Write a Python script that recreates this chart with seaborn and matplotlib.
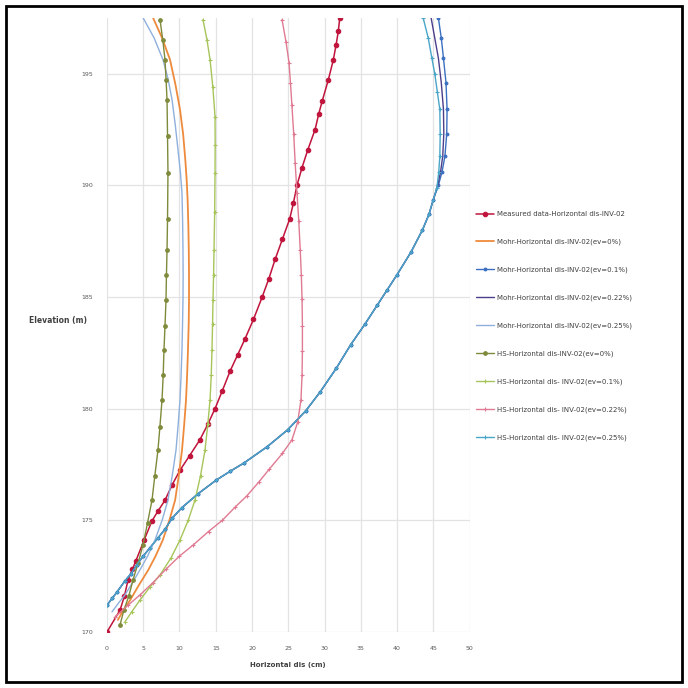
import numpy as np
import pandas as pd
import matplotlib
matplotlib.use("Agg")
import matplotlib.pyplot as plt
import seaborn as sns
from matplotlib.patches import Rectangle

# ---------------- data (elevation m, horizontal displacement cm) ----------------
measured_elev = [170.0, 170.98, 171.6, 172.33, 172.8, 173.2, 174.1, 174.97, 175.4, 175.9, 176.6, 177.26,
                 177.9, 178.6, 179.3, 180.0, 180.8, 181.7, 182.4, 183.1, 184.0, 185.0, 185.8, 186.7,
                 187.6, 188.5, 189.2, 190.0, 190.8, 191.6, 192.5, 193.2, 193.8, 194.7, 195.6, 196.3, 196.9, 197.5]
measured_cm = [0.0, 1.8, 2.4, 2.9, 3.5, 4.0, 5.1, 6.2, 7.0, 8.0, 9.0, 10.1,
               11.4, 12.8, 13.9, 14.9, 15.9, 17.0, 18.0, 19.0, 20.2, 21.4, 22.3, 23.2,
               24.2, 25.2, 25.7, 26.2, 26.9, 27.7, 28.7, 29.2, 29.7, 30.5, 31.2, 31.6, 31.9, 32.1]

mohr0_elev = [170.54, 171.0, 171.43, 172.1, 172.78, 173.4, 174.12, 175.0, 175.91, 177.0, 178.15, 179.3,
              180.39, 181.5, 182.63, 183.8, 184.87, 186.0, 187.11, 188.2, 189.36, 190.3, 191.15, 192.3,
              193.39, 194.5, 195.63, 196.6, 197.51]
mohr0_cm = [1.5, 2.3, 3.2, 4.4, 5.7, 6.7, 7.7, 8.6, 9.4, 9.9, 10.35, 10.65,
            10.9, 11.05, 11.17, 11.27, 11.31, 11.31, 11.28, 11.22, 11.12, 10.98, 10.8, 10.5,
            10.07, 9.45, 8.69, 7.6, 6.34]

mohr025_elev = [170.9, 171.3, 171.66, 172.2, 172.78, 173.4, 174.12, 175.0, 175.91, 177.0, 178.15, 179.3,
                180.39, 181.5, 182.63, 183.8, 184.87, 186.0, 187.11, 188.4, 189.67, 190.6, 191.6, 192.7,
                193.84, 194.8, 195.63, 196.6, 197.51]
mohr025_cm = [0.69, 1.6, 2.48, 3.5, 4.55, 5.6, 6.62, 7.6, 8.41, 9.0, 9.52, 9.82,
              10.07, 10.22, 10.34, 10.42, 10.48, 10.5, 10.48, 10.43, 10.34, 10.12, 9.79, 9.42,
              8.97, 8.4, 7.72, 6.5, 4.97]

big_elev = [171.2, 171.5, 171.8, 172.3, 172.6, 173.0, 173.4, 173.76, 174.2, 174.6, 175.1, 175.56,
            176.2, 176.81, 177.2, 177.57, 178.3, 179.05, 179.9, 180.75, 181.8, 182.86, 183.8, 184.65,
            185.3, 186.0, 187.0, 188.0, 188.7, 189.36]
big_cm = [0.0, 0.7, 1.4, 2.5, 3.3, 4.1, 5.0, 5.9, 7.0, 8.0, 9.0, 10.3,
          12.6, 15.1, 17.0, 18.9, 22.1, 24.9, 27.4, 29.4, 31.6, 33.6, 35.6, 37.3,
          38.6, 40.0, 41.9, 43.5, 44.4, 45.0]

mohr01_top_elev = [190.0, 190.6, 191.3, 192.3, 193.4, 194.6, 195.7, 196.6, 197.5]
mohr01_top_cm = [45.7, 46.2, 46.6, 46.85, 46.9, 46.75, 46.4, 46.1, 45.7]
mohr022_top_elev = [190.0, 190.6, 191.3, 192.3, 193.4, 194.6, 195.7, 196.6, 197.5]
mohr022_top_cm = [45.6, 46.0, 46.3, 46.45, 46.4, 46.1, 45.7, 45.2, 44.7]
hs025_top_elev = [189.9, 190.6, 191.3, 192.3, 193.4, 194.2, 195.0, 195.7, 196.6, 197.5]
hs025_top_cm = [45.5, 45.75, 45.9, 45.95, 45.9, 45.55, 45.2, 44.8, 44.3, 43.6]

hs0_elev = [170.31, 170.99, 171.6, 172.33, 173.1, 173.9, 174.9, 175.91, 177.0, 178.15, 179.2, 180.39,
            181.5, 182.63, 183.7, 184.87, 186.0, 187.11, 188.5, 190.56, 192.2, 193.84, 194.7, 195.63, 196.5, 197.42]
hs0_cm = [1.79, 2.34, 3.0, 3.59, 4.3, 4.97, 5.6, 6.21, 6.6, 7.03, 7.3, 7.59,
          7.75, 7.86, 8.0, 8.14, 8.2, 8.28, 8.35, 8.41, 8.35, 8.28, 8.15, 8.0, 7.7, 7.31]

hs01_elev = [170.45, 170.9, 171.43, 172.0, 172.55, 173.3, 174.12, 175.0, 175.91, 177.0, 178.15, 179.3,
             180.39, 181.5, 182.63, 183.8, 184.87, 186.0, 187.11, 188.8, 190.56, 191.8, 193.07, 194.4,
             195.63, 196.5, 197.42]
hs01_cm = [2.48, 3.4, 4.55, 5.9, 7.3, 8.8, 10.07, 11.2, 12.14, 12.9, 13.52, 13.9,
           14.21, 14.38, 14.48, 14.56, 14.62, 14.7, 14.76, 14.85, 14.9, 14.92, 14.9, 14.6,
           14.21, 13.8, 13.24]

hs022_elev = [170.67, 171.2, 171.66, 172.2, 172.8, 173.4, 173.9, 174.5, 175.0, 175.6, 176.1, 176.7,
              177.3, 178.0, 178.6, 179.4, 180.4, 181.5, 182.6, 183.7, 184.9, 186.0, 187.1, 188.4,
              189.67, 191.0, 192.3, 193.6, 194.6, 195.5, 196.4, 197.42]
hs022_cm = [1.1, 2.9, 4.55, 6.3, 8.1, 10.0, 11.9, 14.0, 15.9, 17.7, 19.3, 20.9,
            22.4, 24.2, 25.5, 26.3, 26.75, 26.9, 26.95, 26.95, 26.9, 26.8, 26.65, 26.45,
            26.2, 25.95, 25.75, 25.5, 25.3, 25.1, 24.7, 24.14]

labels = [
    "Measured data-Horizontal dis-INV-02",
    "Mohr-Horizontal dis-INV-02(ev=0%)",
    "Mohr-Horizontal dis-INV-02(ev=0.1%)",
    "Mohr-Horizontal dis-INV-02(ev=0.22%)",
    "Mohr-Horizontal dis-INV-02(ev=0.25%)",
    "HS-Horizontal dis-INV-02(ev=0%)",
    "HS-Horizontal dis- INV-02(ev=0.1%)",
    "HS-Horizontal dis- INV-02(ev=0.22%)",
    "HS-Horizontal dis- INV-02(ev=0.25%)",
]
x_ticks = [0, 5, 10, 15, 20, 25, 30, 35, 40, 45, 50]
y_ticks = [170, 175, 180, 185, 190, 195]

series = [
    (measured_cm, measured_elev),
    (mohr0_cm, mohr0_elev),
    (big_cm + mohr01_top_cm, big_elev + mohr01_top_elev),
    (big_cm + mohr022_top_cm, big_elev + mohr022_top_elev),
    (mohr025_cm, mohr025_elev),
    (hs0_cm, hs0_elev),
    (hs01_cm, hs01_elev),
    (hs022_cm, hs022_elev),
    (big_cm + hs025_top_cm, big_elev + hs025_top_elev),
]
styles = [
    dict(color="#c0143c", marker="o", markersize=3.2, linewidth=1.1),
    dict(color="#ee8a3c", marker=None, linewidth=1.3),
    dict(color="#3b6fc0", marker="o", markersize=2.0, linewidth=1.0),
    dict(color="#4b3f8c", marker=None, linewidth=1.0),
    dict(color="#8fb0dc", marker=None, linewidth=1.0),
    dict(color="#7f8a3a", marker="o", markersize=2.6, linewidth=1.0),
    dict(color="#a7c55a", marker="+", markersize=3.5, linewidth=1.0),
    dict(color="#e07a92", marker="+", markersize=3.5, linewidth=1.0),
    dict(color="#4aa6c8", marker="+", markersize=3.5, linewidth=1.0),
]

sns.set_theme(style="whitegrid")
plt.rcParams['font.family'] = ['DejaVu Sans']

fig = plt.figure(figsize=(6.88, 6.88), dpi=100)
ax = fig.add_axes([0.1555, 0.0814, 0.527, 0.8926])

for (xs, ys), lab, st in zip(series, labels, styles):
    df = pd.DataFrame({"x": xs, "y": ys})
    sns.lineplot(data=df, x="x", y="y", sort=False, estimator=None, ax=ax,
                 label=lab, markeredgecolor=st["color"], markeredgewidth=0.8, **st)

ax.set_xlim(0, 50)
ax.set_ylim(170, 197.5)
ax.set_xticks(x_ticks)
ax.set_yticks(y_ticks)
ax.set_xticklabels([str(v) for v in x_ticks])
ax.set_yticklabels([str(v) for v in y_ticks])
ax.tick_params(axis="both", labelsize=4.5, colors="#595959", length=0, pad=10)
ax.grid(True, color="#e3e3e3", linewidth=0.9)
for s in ax.spines.values():
    s.set_visible(False)
ax.set_xlabel("Horizontal dis (cm)", fontsize=5, fontweight="bold", color="#404040", labelpad=8)
ax.set_ylabel("Elevation (m)", fontsize=5.5, fontweight="bold", color="#404040", rotation=0)
ax.yaxis.set_label_coords(-0.135, 0.5)

leg = ax.legend(loc="center left", bbox_to_anchor=(1.0, 0.498), frameon=False,
                fontsize=5, labelspacing=3.1, handlelength=2.6, handletextpad=0.4)
for t in leg.get_texts():
    t.set_color("#404040")

fig.patches.append(Rectangle((0.008, 0.008), 0.984, 0.984, transform=fig.transFigure,
                             fill=False, edgecolor="black", linewidth=2))

fig.savefig("out.png", dpi=100)
